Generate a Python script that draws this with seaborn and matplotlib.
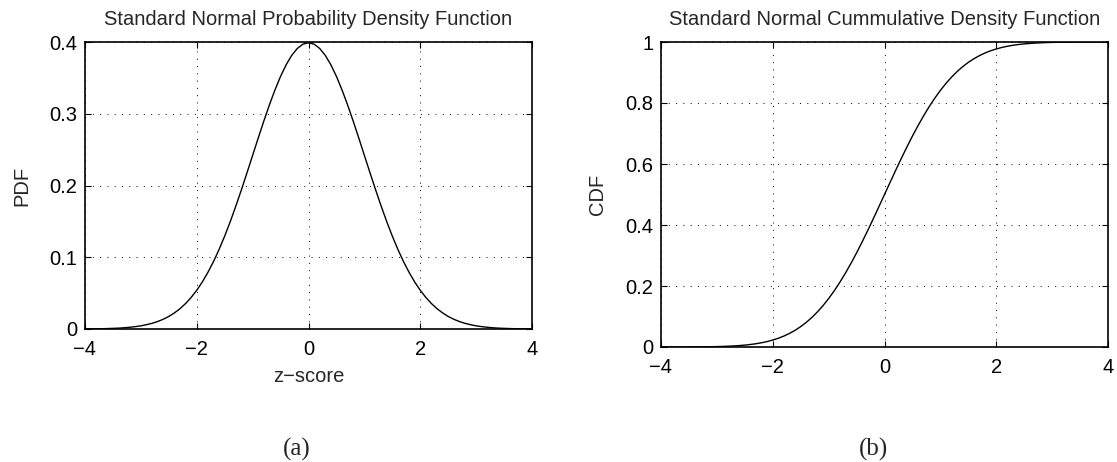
import matplotlib
matplotlib.use("Agg")
import matplotlib.pyplot as plt
import seaborn as sns
import pandas as pd

# z values read along the x axis
z_score = [-4.0, -3.9, -3.8, -3.7, -3.6, -3.5, -3.4, -3.3, -3.2, -3.1,
           -3.0, -2.9, -2.8, -2.7, -2.6, -2.5, -2.4, -2.3, -2.2, -2.1,
           -2.0, -1.9, -1.8, -1.7, -1.6, -1.5, -1.4, -1.3, -1.2, -1.1,
           -1.0, -0.9, -0.8, -0.7, -0.6, -0.5, -0.4, -0.3, -0.2, -0.1,
           0.0,
           0.1, 0.2, 0.3, 0.4, 0.5, 0.6, 0.7, 0.8, 0.9, 1.0,
           1.1, 1.2, 1.3, 1.4, 1.5, 1.6, 1.7, 1.8, 1.9, 2.0,
           2.1, 2.2, 2.3, 2.4, 2.5, 2.6, 2.7, 2.8, 2.9, 3.0,
           3.1, 3.2, 3.3, 3.4, 3.5, 3.6, 3.7, 3.8, 3.9, 4.0]

# PDF curve (left panel)
pdf_vals = [0.0001, 0.0002, 0.0003, 0.0004, 0.0006, 0.0009, 0.0012, 0.0017, 0.0024, 0.0033,
            0.0044, 0.0060, 0.0079, 0.0104, 0.0136, 0.0175, 0.0224, 0.0283, 0.0355, 0.0440,
            0.0540, 0.0656, 0.0790, 0.0940, 0.1109, 0.1295, 0.1497, 0.1714, 0.1942, 0.2179,
            0.2420, 0.2661, 0.2897, 0.3123, 0.3332, 0.3521, 0.3683, 0.3814, 0.3910, 0.3970,
            0.3989,
            0.3970, 0.3910, 0.3814, 0.3683, 0.3521, 0.3332, 0.3123, 0.2897, 0.2661, 0.2420,
            0.2179, 0.1942, 0.1714, 0.1497, 0.1295, 0.1109, 0.0940, 0.0790, 0.0656, 0.0540,
            0.0440, 0.0355, 0.0283, 0.0224, 0.0175, 0.0136, 0.0104, 0.0079, 0.0060, 0.0044,
            0.0033, 0.0024, 0.0017, 0.0012, 0.0009, 0.0006, 0.0004, 0.0003, 0.0002, 0.0001]

# CDF curve (right panel)
cdf_vals = [0.0000, 0.0000, 0.0001, 0.0001, 0.0002, 0.0002, 0.0003, 0.0005, 0.0007, 0.0010,
            0.0013, 0.0019, 0.0026, 0.0035, 0.0047, 0.0062, 0.0082, 0.0107, 0.0139, 0.0179,
            0.0228, 0.0287, 0.0359, 0.0446, 0.0548, 0.0668, 0.0808, 0.0968, 0.1151, 0.1357,
            0.1587, 0.1841, 0.2119, 0.2420, 0.2743, 0.3085, 0.3446, 0.3821, 0.4207, 0.4602,
            0.5000,
            0.5398, 0.5793, 0.6179, 0.6554, 0.6915, 0.7257, 0.7580, 0.7881, 0.8159, 0.8413,
            0.8643, 0.8849, 0.9032, 0.9192, 0.9332, 0.9452, 0.9554, 0.9641, 0.9713, 0.9772,
            0.9821, 0.9861, 0.9893, 0.9918, 0.9938, 0.9953, 0.9965, 0.9974, 0.9981, 0.9987,
            0.9990, 0.9993, 0.9995, 0.9997, 0.9998, 0.9998, 0.9999, 0.9999, 1.0000, 1.0000]

x_ticks = [-4, -2, 0, 2, 4]
x_tick_labels = ["\u22124", "\u22122", "0", "2", "4"]
pdf_ticks = [0, 0.1, 0.2, 0.3, 0.4]
pdf_tick_labels = ["0", "0.1", "0.2", "0.3", "0.4"]
cdf_ticks = [0, 0.2, 0.4, 0.6, 0.8, 1.0]
cdf_tick_labels = ["0", "0.2", "0.4", "0.6", "0.8", "1"]

sns.set_style("ticks")
plt.rcParams['font.family'] = ['Liberation Sans', 'DejaVu Sans']
plt.rcParams['font.size'] = 14.5

df = pd.DataFrame({"z": z_score, "pdf": pdf_vals, "cdf": cdf_vals})

fig = plt.figure(figsize=(11.17, 4.62), dpi=100)
ax1 = fig.add_axes([85 / 1117, 1 - 329 / 462, 447 / 1117, 287 / 462])
ax2 = fig.add_axes([661 / 1117, 1 - 347 / 462, 447 / 1117, 305 / 462])


def style_axes(ax, yticks, ylabels):
    ax.set_xlim(-4, 4)
    ax.set_xticks(x_ticks)
    ax.set_xticklabels(x_tick_labels)
    ax.set_yticks(yticks)
    ax.set_yticklabels(ylabels)
    ax.set_ylim(yticks[0], yticks[-1])
    ax.grid(True, color="black", linestyle=(0, (1, 6.5)), linewidth=0.7)
    for s in ax.spines.values():
        s.set_visible(True)
        s.set_linewidth(1.2)
        s.set_color("black")
    ax.tick_params(direction="in", length=4, width=0.8, top=True, right=True,
                   labelsize=14.5, colors="black")
    ax.tick_params(axis="x", pad=8)
    ax.tick_params(axis="y", pad=5.5)


sns.lineplot(data=df, x="z", y="pdf", ax=ax1, color="black", linewidth=1.0)
style_axes(ax1, pdf_ticks, pdf_tick_labels)
ax1.set_title("Standard Normal Probability Density Function", fontsize=14.5, pad=12)
ax1.set_xlabel("z\u2212score", fontsize=14.5)
ax1.set_ylabel("PDF", fontsize=14.5)
ax1.xaxis.label.set_va("center")
ax1.xaxis.set_label_coords(0.5, -0.165)
ax1.yaxis.set_label_coords(-0.119, 0.5)

sns.lineplot(data=df, x="z", y="cdf", ax=ax2, color="black", linewidth=1.0)
style_axes(ax2, cdf_ticks, cdf_tick_labels)
ax2.set_title("Standard Normal Cummulative Density Function", fontsize=14.5, pad=12)
ax2.set_xlabel("")
ax2.set_ylabel("CDF", fontsize=14.5)
ax2.yaxis.set_label_coords(-0.121, 0.5)

fig.text(297 / 1117, 1 - 449 / 462, "(a)", ha="center", va="center",
         family="Liberation Serif", fontsize=18)
fig.text(873 / 1117, 1 - 449 / 462, "(b)", ha="center", va="center",
         family="Liberation Serif", fontsize=18)

fig.savefig("out.png", dpi=100)
